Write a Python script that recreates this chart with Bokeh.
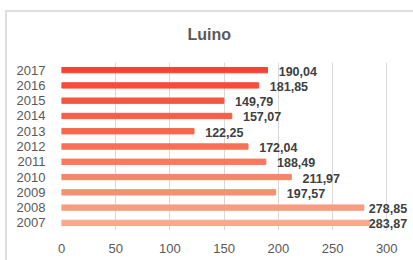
from bokeh.plotting import figure
from bokeh.models import ColumnDataSource, Range1d, FixedTicker, Title
from bokeh.embed import file_html
from bokeh.resources import INLINE
import numpy as np

years = ["2007", "2008", "2009", "2010", "2011", "2012", "2013", "2014", "2015", "2016", "2017"]
values = [283.87, 278.85, 197.57, 211.97, 188.49, 172.04, 122.25, 157.07, 149.79, 181.85, 190.04]
labels = ["283,87", "278,85", "197,57", "211,97", "188,49", "172,04", "122,25", "157,07", "149,79", "181,85", "190,04"]
x_ticks = [0, 50, 100, 150, 200, 250, 300]

colors = ["#F9A78D", "#F89C80", "#F79073", "#F68668", "#F67B5E", "#F57155",
          "#F5684D", "#F55F47", "#F45641", "#F44D3C", "#F44336"]

FONT = "Liberation Sans"

vals = np.array(values)
label_x = np.minimum(vals + 10.3, 283.5)

src = ColumnDataSource(dict(y=years, v=values, c=colors, lx=label_x, t=labels))

p = figure(width=413, height=260, y_range=years, x_range=Range1d(0, 321),
           output_backend="svg", toolbar_location=None,
           min_border_left=61, min_border_right=4, min_border_top=62, min_border_bottom=30)
p.border_fill_color = None
p.styles = {
    "background": ("linear-gradient(#dedede, #dedede) 5px 10px / 2px 260px no-repeat, "
                   "linear-gradient(#dedede, #dedede) 5px 10px / 420px 2px no-repeat, #ffffff"),
}

title = Title(text="Luino", align="left", offset=126, text_font=FONT,
              text_font_size="16px", text_font_style="bold", text_color="#595959", standoff=40)
p.add_layout(title, "above")

p.hbar(y="y", right="v", left=0, height=0.35, color="c", source=src)
p.text(x="lx", y="y", text="t", source=src, text_font={"value": FONT}, text_font_size={"value": "12.5px"},
       text_font_style="bold", text_color="#404040", text_baseline="middle", y_offset=1)

p.outline_line_color = None
p.ygrid.grid_line_color = None
p.xgrid.grid_line_color = "#d9d9d9"
p.xgrid.grid_line_width = 1
p.xaxis.ticker = FixedTicker(ticks=x_ticks)

for ax in (p.xaxis[0], p.yaxis[0]):
    ax.axis_line_color = None
    ax.major_tick_line_color = None
    ax.minor_tick_line_color = None
    ax.major_label_text_font = FONT
    ax.major_label_text_font_size = "13px"
    ax.major_label_text_color = "#595959"
p.xaxis.major_label_standoff = 7
p.yaxis.major_label_standoff = 10

open("out.html", "w").write(file_html(p, INLINE))
